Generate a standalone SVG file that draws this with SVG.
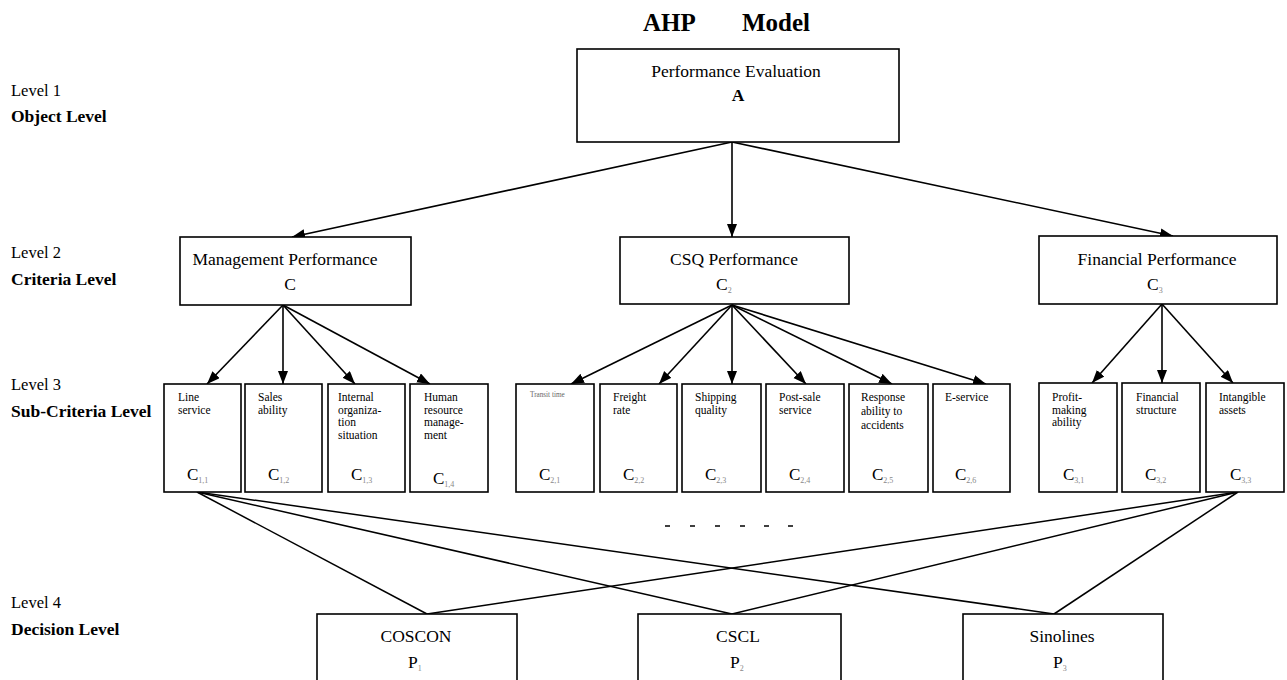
<svg xmlns="http://www.w3.org/2000/svg" width="1287" height="680" viewBox="0 0 1287 680">
<defs>
<style>
text{font-family:"Liberation Serif","Times New Roman",serif;fill:#000}
.box{fill:#fff;stroke:#000;stroke-width:1.6}
.title{font-family:"Liberation Serif",serif;font-size:25px;font-weight:bold}
.lvl{font-family:"Liberation Serif",serif;font-size:16.5px}
.lvlb{font-family:"Liberation Serif",serif;font-size:17.5px;font-weight:bold}
.main{font-family:"Liberation Serif",serif;font-size:17.5px}
.sub{font-family:"Liberation Serif",serif;font-size:11.5px}
.tiny{font-family:"Liberation Serif",serif;font-size:7.2px;fill:#666}
.cl{font-family:"Liberation Serif",serif;font-size:17px}
.ix{font-size:8px;fill:#888}
.con{stroke:#000;stroke-width:1.5;fill:none}
.arr{stroke:#000;stroke-width:1.6;fill:none;marker-end:url(#ah)}
.dash{stroke:#000;stroke-width:1.5}
</style>
<marker id="ah" markerUnits="userSpaceOnUse" markerWidth="14" markerHeight="12" refX="13" refY="5" orient="auto">
<path d="M0,0 L13,5 L0,10 z" fill="#000"/>
</marker>
</defs>
<rect width="1287" height="680" fill="#fff"/>

<g id="title">
<text class="title" x="643" y="31">AHP</text>
<text class="title" x="742" y="31">Model</text>
</g>

<g id="levels">
<text class="lvl" x="11" y="96">Level 1</text>
<text class="lvlb" x="11" y="122">Object Level</text>
<text class="lvl" x="11" y="258">Level 2</text>
<text class="lvlb" x="11" y="285">Criteria Level</text>
<text class="lvl" x="11" y="390">Level 3</text>
<text class="lvlb" x="11" y="417">Sub-Criteria Level</text>
<text class="lvl" x="11" y="608">Level 4</text>
<text class="lvlb" x="11" y="635">Decision Level</text>
</g>

<g id="connectors">
<line class="arr" x1="732" y1="142" x2="292" y2="237"/>
<line class="arr" x1="732" y1="142" x2="732" y2="237"/>
<line class="arr" x1="732" y1="142" x2="1173" y2="236"/>
<line class="arr" x1="283" y1="305" x2="207" y2="384"/>
<line class="arr" x1="283" y1="305" x2="283" y2="384"/>
<line class="arr" x1="283" y1="305" x2="355" y2="384"/>
<line class="arr" x1="283" y1="305" x2="430" y2="384"/>
<line class="arr" x1="732" y1="305" x2="571" y2="384"/>
<line class="arr" x1="732" y1="305" x2="659" y2="384"/>
<line class="arr" x1="732" y1="305" x2="732" y2="384"/>
<line class="arr" x1="732" y1="305" x2="806" y2="384"/>
<line class="arr" x1="732" y1="305" x2="892" y2="384"/>
<line class="arr" x1="732" y1="305" x2="986" y2="384"/>
<line class="arr" x1="1162" y1="304" x2="1092" y2="383"/>
<line class="arr" x1="1162" y1="304" x2="1162" y2="383"/>
<line class="arr" x1="1162" y1="304" x2="1233" y2="383"/>
<line class="con" x1="197" y1="492" x2="427" y2="614"/>
<line class="con" x1="197" y1="492" x2="732" y2="614"/>
<line class="con" x1="197" y1="492" x2="1054" y2="614"/>
<line class="con" x1="1238" y1="492" x2="427" y2="614"/>
<line class="con" x1="1238" y1="492" x2="732" y2="614"/>
<line class="con" x1="1238" y1="492" x2="1054" y2="614"/>
<line class="dash" x1="665" y1="526" x2="670" y2="526"/>
<line class="dash" x1="690" y1="526" x2="695" y2="526"/>
<line class="dash" x1="715" y1="526" x2="720" y2="526"/>
<line class="dash" x1="740" y1="526" x2="745" y2="526"/>
<line class="dash" x1="764" y1="526" x2="769" y2="526"/>
<line class="dash" x1="788" y1="526" x2="793" y2="526"/>
</g>

<g id="nodeA">
<rect class="box" x="577" y="49" width="322" height="93"/>
<text class="main" x="736" y="77" text-anchor="middle">Performance Evaluation</text>
<text class="main" x="738" y="101" text-anchor="middle" font-weight="bold">A</text>
</g>

<g id="nodeC1">
<rect class="box" x="180" y="237" width="231" height="68"/>
<text class="main" x="285" y="265" text-anchor="middle">Management Performance</text>
<text class="main" x="290" y="290" text-anchor="middle">C</text>
</g>
<g id="nodeC2">
<rect class="box" x="620" y="237" width="229" height="67"/>
<text class="main" x="734" y="265" text-anchor="middle">CSQ Performance</text>
<text class="main" x="716" y="290">C<tspan class="ix" dy="3">2</tspan></text>
</g>
<g id="nodeC3">
<rect class="box" x="1039" y="236" width="238" height="68"/>
<text class="main" x="1157" y="265" text-anchor="middle">Financial Performance</text>
<text class="main" x="1147" y="290">C<tspan class="ix" dy="3">3</tspan></text>
</g>

<g id="nodeC11">
<rect class="box" x="164" y="384" width="77" height="108"/>
<text class="sub" x="178" y="401">Line</text>
<text class="sub" x="178" y="413.5">service</text>
<text class="cl" x="187" y="480">C<tspan class="ix" dy="3">1,1</tspan></text>
</g>
<g id="nodeC12">
<rect class="box" x="245" y="384" width="77" height="108"/>
<text class="sub" x="258" y="401">Sales</text>
<text class="sub" x="258" y="413.5">ability</text>
<text class="cl" x="268" y="480">C<tspan class="ix" dy="3">1,2</tspan></text>
</g>
<g id="nodeC13">
<rect class="box" x="328" y="384" width="77" height="108"/>
<text class="sub" x="338" y="401">Internal</text>
<text class="sub" x="338" y="413.5">organiza-</text>
<text class="sub" x="338" y="426">tion</text>
<text class="sub" x="338" y="438.5">situation</text>
<text class="cl" x="351" y="480">C<tspan class="ix" dy="3">1,3</tspan></text>
</g>
<g id="nodeC14">
<rect class="box" x="410" y="384" width="78" height="108"/>
<text class="sub" x="424" y="401">Human</text>
<text class="sub" x="424" y="413.5">resource</text>
<text class="sub" x="424" y="426">manage-</text>
<text class="sub" x="424" y="438.5">ment</text>
<text class="cl" x="433" y="484">C<tspan class="ix" dy="3">1,4</tspan></text>
</g>

<g id="nodeC21">
<rect class="box" x="516" y="384" width="78" height="108"/>
<text class="tiny" x="530" y="397">Transit time</text>
<text class="cl" x="539" y="480">C<tspan class="ix" dy="3">2,1</tspan></text>
</g>
<g id="nodeC22">
<rect class="box" x="600" y="384" width="77" height="108"/>
<text class="sub" x="613" y="401">Freight</text>
<text class="sub" x="613" y="413.5">rate</text>
<text class="cl" x="623" y="480">C<tspan class="ix" dy="3">2,2</tspan></text>
</g>
<g id="nodeC23">
<rect class="box" x="682" y="384" width="79" height="108"/>
<text class="sub" x="695" y="401">Shipping</text>
<text class="sub" x="695" y="413.5">quality</text>
<text class="cl" x="705" y="480">C<tspan class="ix" dy="3">2,3</tspan></text>
</g>
<g id="nodeC24">
<rect class="box" x="766" y="384" width="78" height="108"/>
<text class="sub" x="779" y="401">Post-sale</text>
<text class="sub" x="779" y="413.5">service</text>
<text class="cl" x="789" y="480">C<tspan class="ix" dy="3">2,4</tspan></text>
</g>
<g id="nodeC25">
<rect class="box" x="849" y="384" width="79" height="108"/>
<text class="sub" x="861" y="401">Response</text>
<text class="sub" x="861" y="415">ability to</text>
<text class="sub" x="861" y="429">accidents</text>
<text class="cl" x="872" y="480">C<tspan class="ix" dy="3">2,5</tspan></text>
</g>
<g id="nodeC26">
<rect class="box" x="933" y="384" width="77" height="108"/>
<text class="sub" x="945" y="401">E-service</text>
<text class="cl" x="955" y="480">C<tspan class="ix" dy="3">2,6</tspan></text>
</g>

<g id="nodeC31">
<rect class="box" x="1039" y="383" width="78" height="109"/>
<text class="sub" x="1052" y="401">Profit-</text>
<text class="sub" x="1052" y="413.5">making</text>
<text class="sub" x="1052" y="426">ability</text>
<text class="cl" x="1063" y="480">C<tspan class="ix" dy="3">3,1</tspan></text>
</g>
<g id="nodeC32">
<rect class="box" x="1122" y="383" width="78" height="109"/>
<text class="sub" x="1136" y="401">Financial</text>
<text class="sub" x="1136" y="413.5">structure</text>
<text class="cl" x="1145" y="480">C<tspan class="ix" dy="3">3,2</tspan></text>
</g>
<g id="nodeC33">
<rect class="box" x="1206" y="383" width="78" height="109"/>
<text class="sub" x="1219" y="401">Intangible</text>
<text class="sub" x="1219" y="413.5">assets</text>
<text class="cl" x="1230" y="480">C<tspan class="ix" dy="3">3,3</tspan></text>
</g>

<g id="nodeP1">
<rect class="box" x="317" y="614" width="200" height="80"/>
<text class="main" x="416" y="642" text-anchor="middle">COSCON</text>
<text class="main" x="408" y="668">P<tspan class="ix" dy="3">1</tspan></text>
</g>
<g id="nodeP2">
<rect class="box" x="638" y="614" width="203" height="80"/>
<text class="main" x="738" y="642" text-anchor="middle">CSCL</text>
<text class="main" x="730" y="668">P<tspan class="ix" dy="3">2</tspan></text>
</g>
<g id="nodeP3">
<rect class="box" x="963" y="614" width="200" height="80"/>
<text class="main" x="1062" y="642" text-anchor="middle">Sinolines</text>
<text class="main" x="1053" y="668">P<tspan class="ix" dy="3">3</tspan></text>
</g>
</svg>
